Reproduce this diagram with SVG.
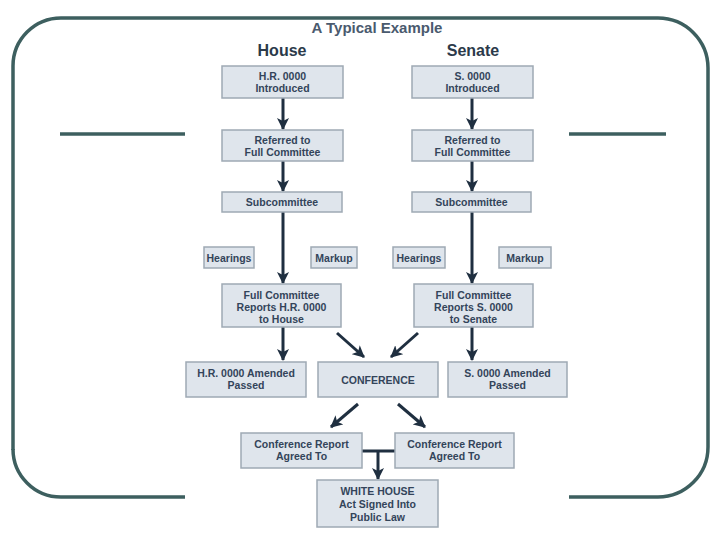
<svg xmlns="http://www.w3.org/2000/svg" width="720" height="540" viewBox="0 0 720 540">
<defs>
<marker id="ah" viewBox="0 0 12 12" refX="11" refY="6" markerWidth="4" markerHeight="4" orient="auto" markerUnits="strokeWidth">
<path d="M0,0 L12,6 L0,12 L3,6 z" fill="#1f2f40"/>
</marker>
<style>
.frame{fill:none;stroke:#3d5f5f;stroke-width:3.5}
.box{fill:#dfe5ec;stroke:#9ea9b4;stroke-width:1.5}
.t{font-family:"Liberation Sans",Arial,sans-serif;font-weight:bold;font-size:10.5px;fill:#33445a;text-anchor:middle}
.h{font-family:"Liberation Sans",Arial,sans-serif;font-weight:bold;font-size:16px;fill:#2b3a4a;text-anchor:middle}
.title{font-family:"Liberation Sans",Arial,sans-serif;font-weight:bold;font-size:15px;fill:#4a5a6e;text-anchor:middle}
.c{fill:none;stroke:#1f2f40;stroke-width:3;marker-end:url(#ah)}
.l{fill:none;stroke:#1f2f40;stroke-width:3}
</style>
</defs>
<rect width="720" height="540" fill="#ffffff"/>
<g id="frame">
<path class="frame" d="M13,450 L13,66 A48,48 0 0 1 61,18 L658,18 A50,50 0 0 1 708,68 L708,447 A50,50 0 0 1 658,497 L569,497"/>
<path class="frame" d="M185,497 L61,497 A48,48 0 0 1 13,449"/>
<line class="frame" x1="60" y1="134" x2="185" y2="134"/>
<line class="frame" x1="569" y1="134" x2="666" y2="134"/>
</g>
<g id="headings">
<text class="title" x="377" y="33">A Typical Example</text>
<text class="h" x="282" y="56">House</text>
<text class="h" x="473" y="56">Senate</text>
</g>
<g id="connectors">
<line class="c" x1="283" y1="98" x2="283" y2="129"/>
<line class="c" x1="283" y1="161" x2="283" y2="191"/>
<line class="c" x1="283" y1="212" x2="283" y2="283"/>
<line class="c" x1="283" y1="327" x2="283" y2="360"/>
<line class="c" x1="472" y1="98" x2="472" y2="129"/>
<line class="c" x1="472" y1="161" x2="472" y2="191"/>
<line class="c" x1="472" y1="212" x2="472" y2="283"/>
<line class="c" x1="472" y1="327" x2="472" y2="360"/>
<line class="c" x1="337" y1="333" x2="364" y2="357"/>
<line class="c" x1="418" y1="333" x2="391" y2="357"/>
<line class="c" x1="358" y1="404" x2="331" y2="427"/>
<line class="c" x1="398" y1="404" x2="425" y2="427"/>
<line class="l" x1="362" y1="451" x2="395" y2="451"/>
<line class="c" x1="378" y1="451" x2="378" y2="479"/>
</g>
<g id="hr-introduced"><rect class="box" x="222" y="66" width="121" height="32"/><text class="t" x="282.5" y="80">H.R. 0000</text><text class="t" x="282.5" y="92">Introduced</text></g>
<g id="s-introduced"><rect class="box" x="412" y="66" width="121" height="32"/><text class="t" x="472.5" y="80">S. 0000</text><text class="t" x="472.5" y="92">Introduced</text></g>
<g id="hr-referred"><rect class="box" x="222" y="130" width="121" height="31"/><text class="t" x="282.5" y="144">Referred to</text><text class="t" x="282.5" y="156">Full Committee</text></g>
<g id="s-referred"><rect class="box" x="412" y="130" width="121" height="31"/><text class="t" x="472.5" y="144">Referred to</text><text class="t" x="472.5" y="156">Full Committee</text></g>
<g id="hr-subcommittee"><rect class="box" x="222" y="192" width="120" height="20"/><text class="t" x="282" y="206">Subcommittee</text></g>
<g id="s-subcommittee"><rect class="box" x="412" y="192" width="119" height="20"/><text class="t" x="471.5" y="206">Subcommittee</text></g>
<g id="hr-hearings"><rect class="box" x="204" y="247" width="50" height="21"/><text class="t" x="229" y="261.5">Hearings</text></g>
<g id="hr-markup"><rect class="box" x="311" y="247" width="46" height="21"/><text class="t" x="334" y="261.5">Markup</text></g>
<g id="s-hearings"><rect class="box" x="393" y="247" width="52" height="21"/><text class="t" x="419" y="261.5">Hearings</text></g>
<g id="s-markup"><rect class="box" x="499" y="247" width="52" height="21"/><text class="t" x="525" y="261.5">Markup</text></g>
<g id="hr-reports"><rect class="box" x="222" y="284" width="119" height="43"/><text class="t" x="281.5" y="299">Full Committee</text><text class="t" x="281.5" y="311">Reports H.R. 0000</text><text class="t" x="281.5" y="323">to House</text></g>
<g id="s-reports"><rect class="box" x="414" y="284" width="119" height="43"/><text class="t" x="473.5" y="299">Full Committee</text><text class="t" x="473.5" y="311">Reports S. 0000</text><text class="t" x="473.5" y="323">to Senate</text></g>
<g id="hr-amended"><rect class="box" x="186" y="362" width="120" height="35"/><text class="t" x="246" y="377">H.R. 0000 Amended</text><text class="t" x="246" y="389">Passed</text></g>
<g id="conference"><rect class="box" x="318" y="362" width="120" height="35"/><text class="t" x="378" y="384">CONFERENCE</text></g>
<g id="s-amended"><rect class="box" x="448" y="362" width="119" height="35"/><text class="t" x="507.5" y="377">S. 0000 Amended</text><text class="t" x="507.5" y="389">Passed</text></g>
<g id="conf-report-left"><rect class="box" x="241" y="433" width="121" height="35"/><text class="t" x="301.5" y="448">Conference Report</text><text class="t" x="301.5" y="460">Agreed To</text></g>
<g id="conf-report-right"><rect class="box" x="395" y="433" width="119" height="35"/><text class="t" x="454.5" y="448">Conference Report</text><text class="t" x="454.5" y="460">Agreed To</text></g>
<g id="white-house"><rect class="box" x="317" y="480" width="121" height="47"/><text class="t" x="377.5" y="495">WHITE HOUSE</text><text class="t" x="377.5" y="508">Act Signed Into</text><text class="t" x="377.5" y="521">Public Law</text></g>
</svg>
